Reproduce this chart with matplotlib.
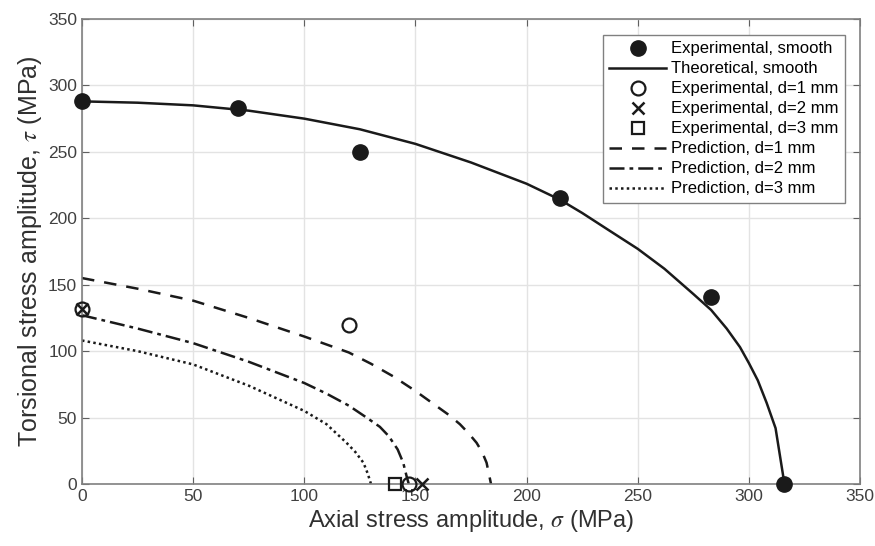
import numpy as np
import matplotlib
matplotlib.use('Agg')
import matplotlib.pyplot as plt

plt.rcParams['font.family'] = ['Liberation Sans', 'DejaVu Sans']
plt.rcParams['mathtext.fontset'] = 'stix'

# experimental, smooth specimens
exp_smooth_x = [0, 70, 125, 215, 283, 316]
exp_smooth_y = [288, 283, 250, 215, 141, 0]

# theoretical curve, smooth
theo_x = [0, 25, 50, 75, 100, 125, 150, 175, 200, 215, 225, 237, 250, 262, 275, 283,
          290, 296, 300, 304, 308, 312, 316]
theo_y = [288, 287, 285, 281, 275, 267, 256, 242, 226, 214, 204, 191, 177, 162, 143, 131,
          117, 103, 91, 78, 61, 42, 0]

# notched experiments
exp_d1_x = [0, 120, 147]
exp_d1_y = [132, 120, 0]
exp_d2_x = [0, 153]
exp_d2_y = [132, 0]
exp_d3_x = [141]
exp_d3_y = [0]

# predictions
pred1_x = [0, 25, 50, 75, 100, 120, 130, 140, 150, 160, 165, 170, 174, 177.5, 180, 182, 183, 184]
pred1_y = [155, 147, 138, 125, 111, 99, 90.5, 81, 70, 58, 52, 45, 38, 31, 24, 16, 8, 0]
pred2_x = [0, 25, 50, 75, 100, 110, 120, 128, 134, 138, 142, 144.5, 146, 147]
pred2_y = [127, 117, 106, 92, 76, 68, 59, 50, 43, 36, 26, 16, 6, 0]
pred3_x = [0, 25, 50, 75, 100, 110, 119, 123, 126.6, 128.5, 130]
pred3_y = [108, 100, 90, 74, 55, 45, 31, 24, 16, 8, 0]

fig = plt.figure(figsize=(8.75, 5.46), dpi=100)
ax = fig.add_axes([0.0937, 0.1136, 0.8892, 0.8516])

ax.plot(exp_smooth_x, exp_smooth_y, 'o', color='#1a1a1a', markersize=11, linestyle='none',
        label='Experimental, smooth', clip_on=False, zorder=5)
ax.plot(theo_x, theo_y, '-', color='#1a1a1a', lw=1.8, label='Theoretical, smooth')
ax.plot(exp_d1_x, exp_d1_y, 'o', mfc='none', mec='#1a1a1a', mew=1.6, markersize=10,
        linestyle='none', label='Experimental, d=1 mm', clip_on=False, zorder=5)
ax.plot(exp_d2_x, exp_d2_y, 'x', color='#1a1a1a', mew=1.8, markersize=9,
        linestyle='none', label='Experimental, d=2 mm', clip_on=False, zorder=5)
ax.plot(exp_d3_x, exp_d3_y, 's', mfc='none', mec='#1a1a1a', mew=1.6, markersize=8,
        linestyle='none', label='Experimental, d=3 mm', clip_on=False, zorder=5)
ax.plot(pred1_x, pred1_y, color='#1a1a1a', lw=1.8, linestyle=(0, (5, 4)), label='Prediction, d=1 mm')
ax.plot(pred2_x, pred2_y, color='#1a1a1a', lw=1.8, linestyle=(0, (6, 2, 1.5, 2)), label='Prediction, d=2 mm')
ax.plot(pred3_x, pred3_y, color='#1a1a1a', lw=1.8, linestyle=(0, (1, 1.3)), label='Prediction, d=3 mm')

ax.set_xlim(0, 350)
ax.set_ylim(0, 350)
ax.set_xticks(range(0, 351, 50))
ax.set_yticks(range(0, 351, 50))
ax.grid(True, color='#e3e3e3', lw=1)
ax.set_axisbelow(True)
for s in ax.spines.values():
    s.set_color('#808080')
    s.set_linewidth(1.2)
ax.tick_params(direction='in', top=True, right=True, length=5, color='#606060',
               labelcolor='#404040', labelsize=12.5)

ax.set_xlabel(r'Axial stress amplitude, $\sigma$ (MPa)', fontsize=17, color='#303030', labelpad=3)
ax.set_ylabel(r'Torsional stress amplitude, $\tau$ (MPa)', fontsize=18, color='#303030', labelpad=3)

leg = ax.legend(loc='upper right', fontsize=12, fancybox=False, framealpha=1,
                edgecolor='#808080', handlelength=3.4, handletextpad=0.3,
                labelspacing=0.3, borderpad=0.4, borderaxespad=0,
                bbox_to_anchor=(0.981, 0.966))
leg.get_frame().set_linewidth(1.0)

plt.savefig('out.png', dpi=100)
